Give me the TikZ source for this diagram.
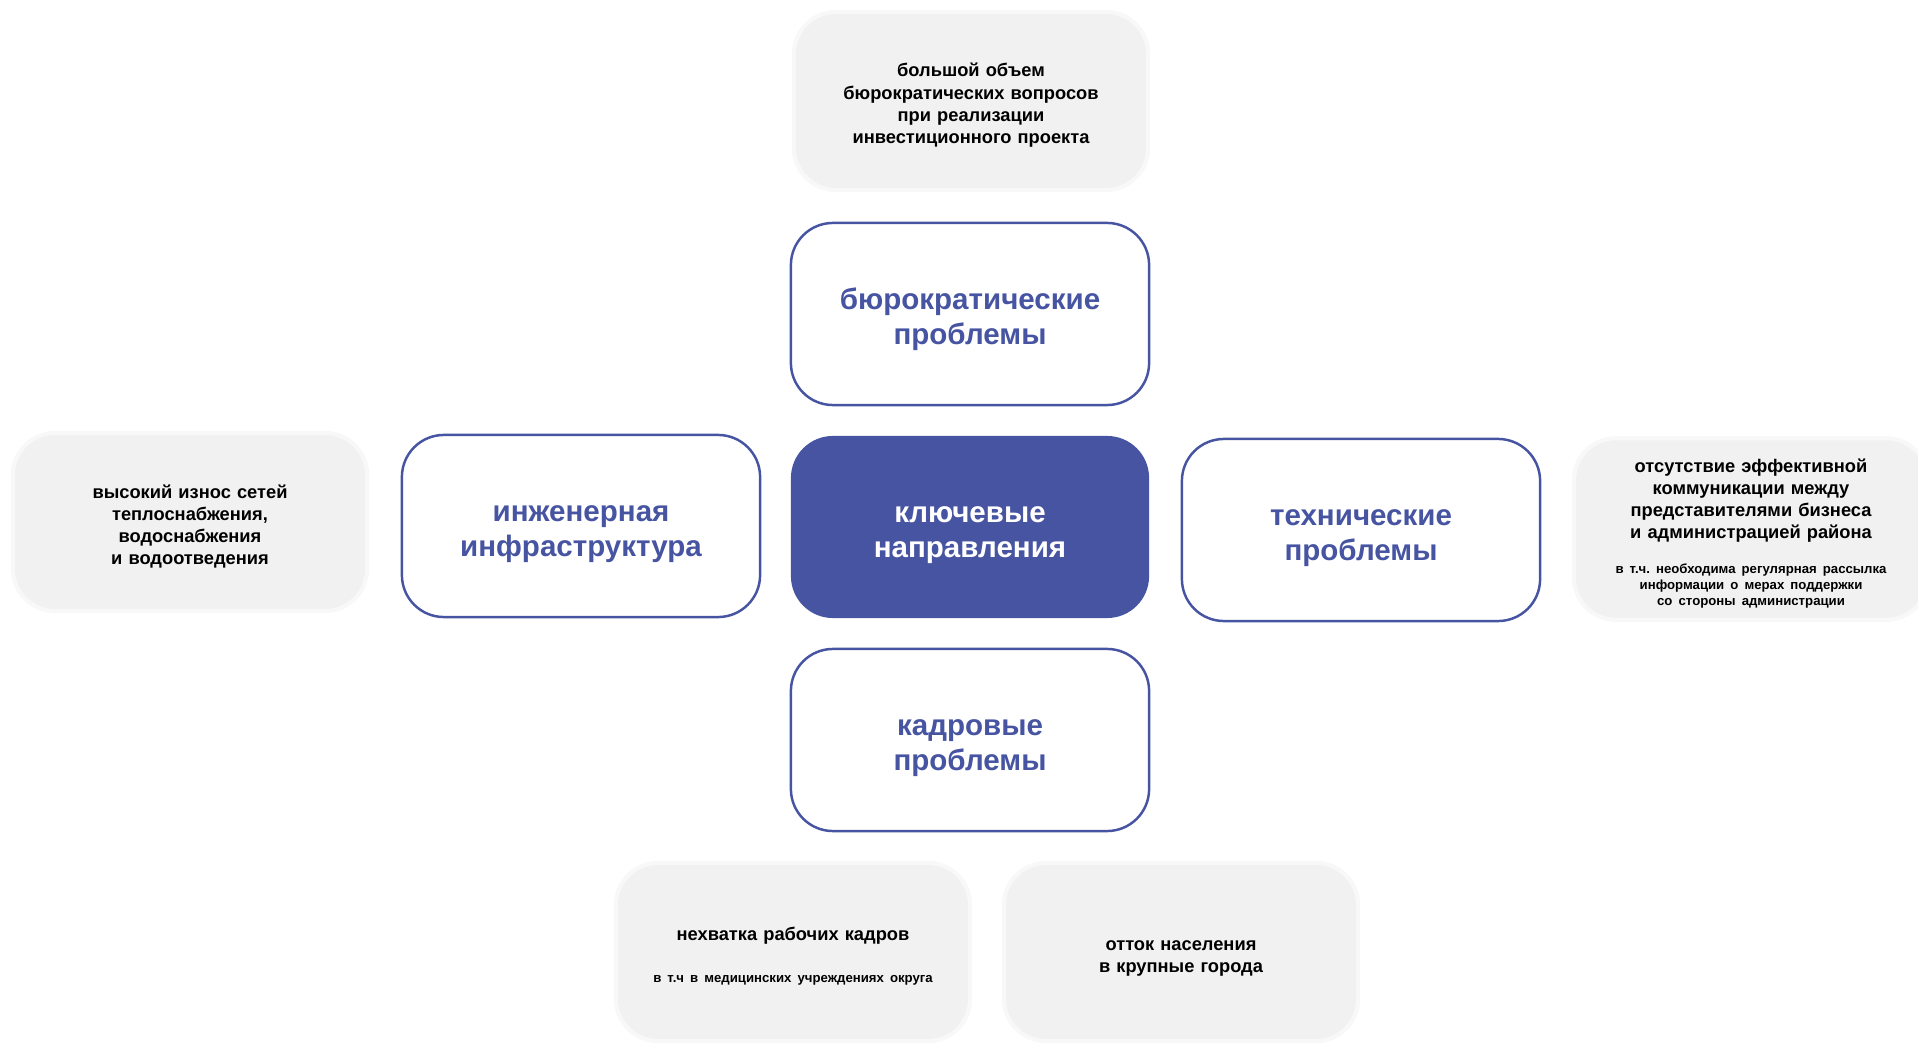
\documentclass[tikz,border=0pt]{standalone}
\usepackage{fontspec}
\setmainfont{Liberation Sans}
\definecolor{mainblue}{RGB}{70,84,162}
\definecolor{issuegray}{RGB}{241,241,241}
\newcommand{\notetext}[1]{{\fontsize{3.75}{4.5}\selectfont #1\par}}
\frenchspacing

\begin{document}
\begin{tikzpicture}[x=0.01cm, y=-0.01cm,
    keybox/.style={rectangle, rounded corners=0.42cm, minimum width=3.58cm, minimum height=1.82cm, fill=mainblue, text=white, text width=3.0cm, align=center, font=\fontsize{8.4}{9.8}\selectfont\bfseries, execute at begin node={\rule{0pt}{9.2pt}}},
    topicbox/.style={keybox, draw=mainblue, line width=0.7pt, fill=white, text=mainblue},
    issuebox/.style={rectangle, rounded corners=0.42cm, minimum width=3.54cm, minimum height=1.78cm, fill=issuegray, draw=issuegray!50!white, line width=1.2pt, text width=3.3cm, align=center, font=\fontsize{5.2}{6.3}\selectfont\bfseries, execute at begin node={\rule{0pt}{6.3pt}}}]
    \useasboundingbox (0,0) rectangle (1918,1043);
    %Coordinates
        %Centre and Directions
    \coordinate (key) at (970,527);
    \coordinate (bur) at (970,314);
    \coordinate (eng) at (581,526);
    \coordinate (tech) at (1361,530);
    \coordinate (staff) at (970,740);
        %Issue Points
    \coordinate (burissue) at (971,101);
    \coordinate (engissue) at (190,522);
    \coordinate (techissue) at (1751,529);
    \coordinate (staffissue1) at (793,952);
    \coordinate (staffissue2) at (1181,952);

    %Key Directions
    \node[keybox] (keynode) at (key) {ключевые\\направления};
    \node[topicbox] (burnode) at (bur) {бюрократические\\проблемы};
    \node[topicbox] (engnode) at (eng) {инженерная\\инфраструктура};
    \node[topicbox] (technode) at (tech) {технические\\проблемы};
    \node[topicbox] (staffnode) at (staff) {кадровые\\проблемы};

    %Issues
    \node[issuebox] (burinode) at (burissue) {большой объем\\бюрократических вопросов\\при реализации\\инвестиционного проекта};
    \node[issuebox] (enginode) at (engissue) {высокий износ сетей\\теплоснабжения,\\водоснабжения\\и водоотведения};
    \node[issuebox] (techinode) at (techissue) {отсутствие эффективной\\коммуникации между\\представителями бизнеса\\и администрацией района\par\vspace{5.5pt}\notetext{в т.ч. необходима регулярная рассылка\\информации о мерах поддержки\\со стороны администрации}};
    \node[issuebox] (staffinode1) at (staffissue1) {нехватка рабочих кадров\par\vspace{7.5pt}\notetext{в т.ч в медицинских учреждениях округа}};
    \node[issuebox] (staffinode2) at (staffissue2) {отток населения\\в крупные города};
\end{tikzpicture}
\end{document}
